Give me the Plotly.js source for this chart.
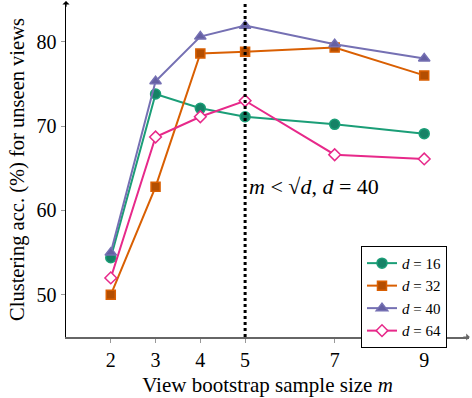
<!DOCTYPE html>
<html>
<head>
<meta charset="utf-8">
<script src="https://cdn.plot.ly/plotly-3.0.1.min.js"></script>
<style>
  body { margin: 0; padding: 0; background: #fff; }
  #plot { width: 472px; height: 398px; }
</style>
</head>
<body>
<div id="plot"></div>
<script>
// view bootstrap sample sizes m
let sampleSizes = [2, 3, 4, 5, 7, 9];

// clustering accuracy (%) on unseen views, one list per d
let accD16 = [54.4, 73.8, 72.1, 71.1, 70.2, 69.1];
let accD32 = [50.0, 62.8, 78.6, 78.8, 79.3, 76.0];
let accD40 = [55.0, 75.3, 80.6, 81.9, 79.7, 78.0];
let accD64 = [52.0, 68.7, 71.1, 73.0, 66.6, 66.1];

let seriesNames = ["d = 16", "d = 32", "d = 40", "d = 64"];
let xTicks = [2, 3, 4, 5, 7, 9];
let yTicks = [50, 60, 70, 80];

let serif = "Liberation Serif, DejaVu Serif, serif";

// helper for one line-with-markers trace
function makeTrace(yValues, label, color, fill, symbol, size) {
  return {
    x: sampleSizes,
    y: yValues,
    name: "<i>" + label.replace("d", "d</i>").replace(/ /g, "&nbsp;"),
    type: "scatter",
    mode: "lines+markers",
    line: { color: color, width: 2 },
    marker: { symbol: symbol, size: size, color: fill, line: { color: color, width: 1.5 } },
    cliponaxis: false
  };
}

let trace1 = makeTrace(accD16, seriesNames[0], "#1b9e77", "#168266", "circle", 10);
let trace2 = makeTrace(accD32, seriesNames[1], "#d95f02", "#b34e02", "square", 9);
let trace3 = makeTrace(accD40, seriesNames[2], "#7570b3", "#6560a3", "triangle-up", 10);
let trace4 = makeTrace(accD64, seriesNames[3], "#e7298a", "#ffffff", "diamond", 9);

let dataAcc = [trace1, trace2, trace3, trace4];

let layout = {
  width: 472,
  height: 398,
  margin: { l: 66, r: 3, t: 2, b: 61 },
  paper_bgcolor: "#fff",
  plot_bgcolor: "#fff",
  font: { family: serif, size: 20, color: "#000" },
  showlegend: true,
  legend: {
    x: 0.732, y: 0.272, xanchor: "left", yanchor: "top",
    bordercolor: "#000", borderwidth: 1, bgcolor: "#fff",
    font: { family: serif, size: 15 },
    itemwidth: 30, tracegroupgap: 0
  },
  xaxis: {
    range: [1, 10],
    tickvals: xTicks,
    ticks: "outside", ticklen: 4, tickcolor: "#999",
    showgrid: false, zeroline: false,
    showline: true, linecolor: "#666", linewidth: 2,
    title: { text: "View bootstrap sample size <i>m</i>", font: { family: serif, size: 21 }, standoff: 7 }
  },
  yaxis: {
    range: [45, 84.7],
    tickvals: yTicks,
    ticks: "outside", ticklen: 4, tickcolor: "#999",
    showgrid: false, zeroline: false,
    showline: true, linecolor: "#000", linewidth: 1.5,
    title: { text: "Clustering acc. (%) for unseen views", font: { family: serif, size: 20.5 }, standoff: 6 }
  },
  shapes: [
    {
      type: "line", xref: "x", yref: "paper",
      x0: 5, x1: 5, y0: 0, y1: 1,
      line: { color: "#000", width: 3, dash: "dot" }
    }
  ],
  annotations: [
    {
      xref: "x", yref: "y", x: 5.05, y: 62.8,
      xanchor: "left", yanchor: "middle",
      text: "<i>m</i>&nbsp;&lt;&nbsp;√<i>d</i>,&nbsp;<i>d</i>&nbsp;=&nbsp;40",
      showarrow: false,
      font: { family: serif, size: 22 }
    },
    {
      // arrow tip on y axis
      xref: "paper", yref: "paper", x: 0, y: 1.005, ax: 0, ay: 8,
      text: "", showarrow: true, arrowhead: 1, arrowsize: 1, arrowwidth: 1.2, arrowcolor: "#000"
    },
    {
      // arrow tip on x axis
      xref: "paper", yref: "paper", x: 1.002, y: 0, ax: -8, ay: 0,
      text: "", showarrow: true, arrowhead: 1, arrowsize: 1, arrowwidth: 1.2, arrowcolor: "#666"
    }
  ]
};

Plotly.newPlot("plot", dataAcc, layout, { displayModeBar: false, staticPlot: true });
</script>
</body>
</html>
